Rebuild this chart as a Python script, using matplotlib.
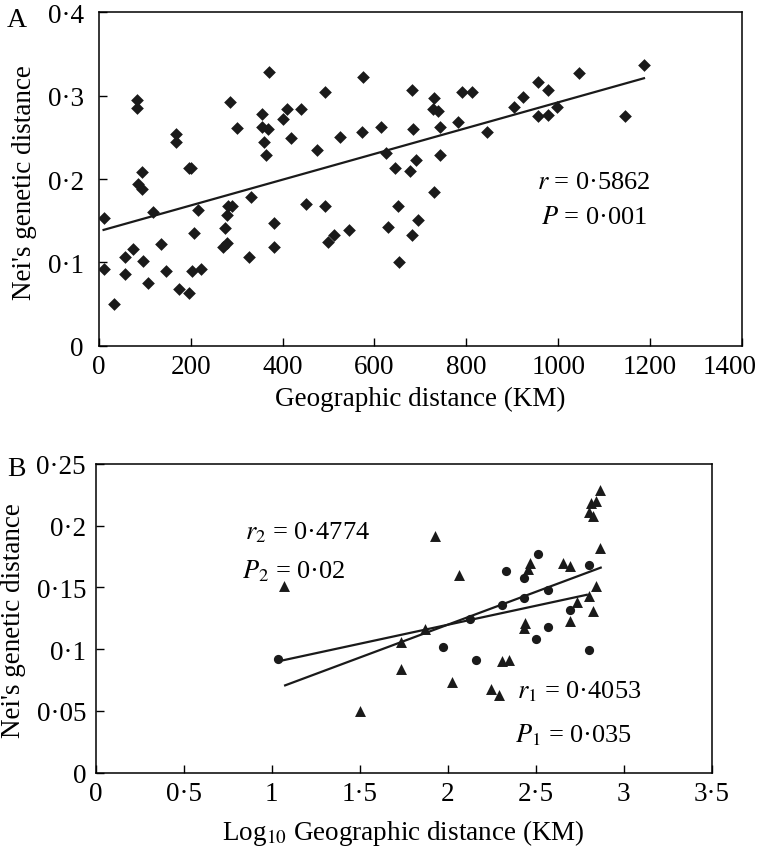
import matplotlib
matplotlib.use("Agg")
import matplotlib.pyplot as plt
from matplotlib.ticker import FuncFormatter
from matplotlib.transforms import ScaledTranslation

# panel A: geographic distance (km) vs Nei's genetic distance
km = [11, 11, 33, 56, 56, 75, 82, 82, 86, 93, 93, 96, 107, 118, 136, 145,
      167, 167, 174, 196, 196, 201, 203, 223, 207, 215, 270, 278, 274, 278,
      282, 289, 285, 300, 327, 330, 355, 355, 368, 359, 364, 370, 382, 382,
      400, 409, 418, 441, 450, 474, 493, 493, 499, 512, 526, 544, 572, 574,
      615, 626, 629, 645, 651, 653, 677, 681, 684, 681, 690, 695,
      730, 728, 738, 742, 742, 730, 790, 813, 782, 845, 903, 924, 956, 979,
      956, 979, 997, 1045, 1146, 1186]
nei_a = [0.153, 0.092, 0.050, 0.106, 0.086, 0.116, 0.295, 0.285, 0.194, 0.188,
         0.208, 0.102, 0.075, 0.161, 0.122, 0.090, 0.254, 0.245, 0.068, 0.063,
         0.213, 0.213, 0.090, 0.092, 0.135, 0.163, 0.118, 0.123, 0.141, 0.157,
         0.168, 0.168, 0.292, 0.261, 0.106, 0.178, 0.278, 0.262, 0.260, 0.245,
         0.229, 0.329, 0.147, 0.118, 0.272, 0.284, 0.249, 0.284, 0.170, 0.235,
         0.305, 0.168, 0.124, 0.133, 0.251, 0.139, 0.257, 0.323, 0.263, 0.231,
         0.143, 0.213, 0.168, 0.100, 0.210, 0.307, 0.260, 0.133, 0.223, 0.151,
         0.297, 0.284, 0.282, 0.262, 0.229, 0.184, 0.305, 0.305, 0.268, 0.257,
         0.286, 0.298, 0.317, 0.307, 0.276, 0.277, 0.286, 0.327, 0.276, 0.337]
fit_a_x = [10, 1187]
fit_a_y = [0.139, 0.321]

# panel B: log10 distance, two groups
log_tri = [1.070, 1.502, 1.735, 1.735, 1.871, 1.928, 2.023, 2.064, 2.244, 2.293,
           2.307, 2.348, 2.439, 2.433, 2.458, 2.465, 2.653, 2.695, 2.695, 2.733,
           2.803, 2.803, 2.824, 2.814, 2.865, 2.841, 2.867, 2.841, 2.828]
nei_tri = [0.151, 0.050, 0.106, 0.084, 0.116, 0.192, 0.073, 0.160, 0.068, 0.063,
           0.090, 0.091, 0.121, 0.117, 0.165, 0.170, 0.170, 0.167, 0.123, 0.138,
           0.143, 0.211, 0.208, 0.218, 0.229, 0.220, 0.182, 0.151, 0.131]
log_cir = [1.034, 1.975, 2.127, 2.159, 2.310, 2.330, 2.435, 2.435, 2.502, 2.515,
           2.572, 2.572, 2.695, 2.803, 2.803]
nei_cir = [0.092, 0.102, 0.124, 0.091, 0.136, 0.163, 0.141, 0.158, 0.108, 0.177,
           0.148, 0.118, 0.132, 0.168, 0.099]
fit_cir_x = [1.034, 2.79]
fit_cir_y = [0.090, 0.144]
fit_tri_x = [1.076, 2.869]
fit_tri_y = [0.0706, 0.166]

plt.rcParams['font.family'] = 'Liberation Serif'
plt.rcParams['mathtext.fontset'] = 'stix'

TICK_FS = 19.5
LAB_FS = 19.5
NOTE_FS = 19
INK = '#1a1a1a'


def dot_fmt(v, pos):
    s = ('%g' % round(v, 4))
    return s.replace('.', '\u00b7')


fig = plt.figure(figsize=(7.58, 8.53), dpi=100)

# ---- panel A
ax1 = fig.add_axes([0.1306, 0.5935, 0.848, 0.3908])
ax1.scatter(km, nei_a, marker='D', s=42, color=INK, linewidths=0, zorder=3)
ax1.plot(fit_a_x, fit_a_y, color=INK, lw=1.6)
ax1.set_xlim(0, 1400)
ax1.set_ylim(0, 0.4)
ax1.set_xticks(range(0, 1401, 200))
ax1.set_yticks([0, 0.1, 0.2, 0.3, 0.4])
ax1.yaxis.set_major_formatter(FuncFormatter(dot_fmt))
ax1.tick_params(direction='in', length=6, width=1, labelsize=TICK_FS, pad=6)
ax1.tick_params(axis='y', pad=11)
ax1.set_xlabel('Geographic distance (KM)', fontsize=LAB_FS)
ax1.xaxis.label.set_va('baseline')
ax1.xaxis.set_label_coords(0.5, -0.178)
ax1.set_ylabel("Nei's genetic distance", fontsize=LAB_FS)
ax1.yaxis.set_label_coords(-0.0964, 0.493)
ax1.text(955, 0.1965, r'$r$ = 0·5862', fontsize=NOTE_FS, va='center')
ax1.text(962, 0.1545, r'$P$ = 0·001', fontsize=NOTE_FS, va='center')

# ---- panel B
ax2 = fig.add_axes([0.1263, 0.0932, 0.8127, 0.3617])
ax2.scatter(log_tri, nei_tri, marker='^', s=62, color=INK, linewidths=0, zorder=3)
ax2.scatter(log_cir, nei_cir, marker='o', s=44, color=INK, linewidths=0, zorder=3)
ax2.plot(fit_cir_x, fit_cir_y, color=INK, lw=1.6)
ax2.plot(fit_tri_x, fit_tri_y, color=INK, lw=1.6)
ax2.set_xlim(0, 3.5)
ax2.set_ylim(0, 0.25)
ax2.set_xticks([0, 0.5, 1, 1.5, 2, 2.5, 3, 3.5])
ax2.set_yticks([0, 0.05, 0.1, 0.15, 0.2, 0.25])
ax2.xaxis.set_major_formatter(FuncFormatter(dot_fmt))
ax2.yaxis.set_major_formatter(FuncFormatter(dot_fmt))
ax2.tick_params(direction='in', length=6, width=1, labelsize=TICK_FS, pad=6)
ax2.tick_params(axis='y', pad=7)
ax2.set_xlabel(r'Log$_{10}$ Geographic distance (KM)', fontsize=LAB_FS)
ax2.xaxis.label.set_va('baseline')
ax2.xaxis.set_label_coords(0.499, -0.2156)
ax2.set_ylabel("Nei's genetic distance", fontsize=LAB_FS)
ax2.yaxis.set_label_coords(-0.113, 0.497)
ax2.text(0.848, 0.195, r'$r_2$ = 0·4774', fontsize=NOTE_FS, va='center')
ax2.text(0.83, 0.164, r'$P_2$ = 0·02', fontsize=NOTE_FS, va='center')
ax2.text(2.392, 0.066, r'$r_1$ = 0·4053', fontsize=NOTE_FS, va='center')
ax2.text(2.383, 0.031, r'$P_1$ = 0·035', fontsize=NOTE_FS, va='center')

for ax in (ax1, ax2):
    for sp in ax.spines.values():
        sp.set_linewidth(1.1)

fig.canvas.draw()
# the last label of panel A sits a little left so it stays inside the figure
last = ax1.get_xticklabels()[-1]
last.set_transform(last.get_transform() + ScaledTranslation(-12 / 100, 0, fig.dpi_scale_trans))

fig.text(7 / 758, 1 - 26.7 / 853, 'A', fontsize=20, va='baseline')
fig.text(7 / 758, 1 - 476 / 853, 'B', fontsize=20, va='baseline')

fig.savefig('out.png', dpi=100)
